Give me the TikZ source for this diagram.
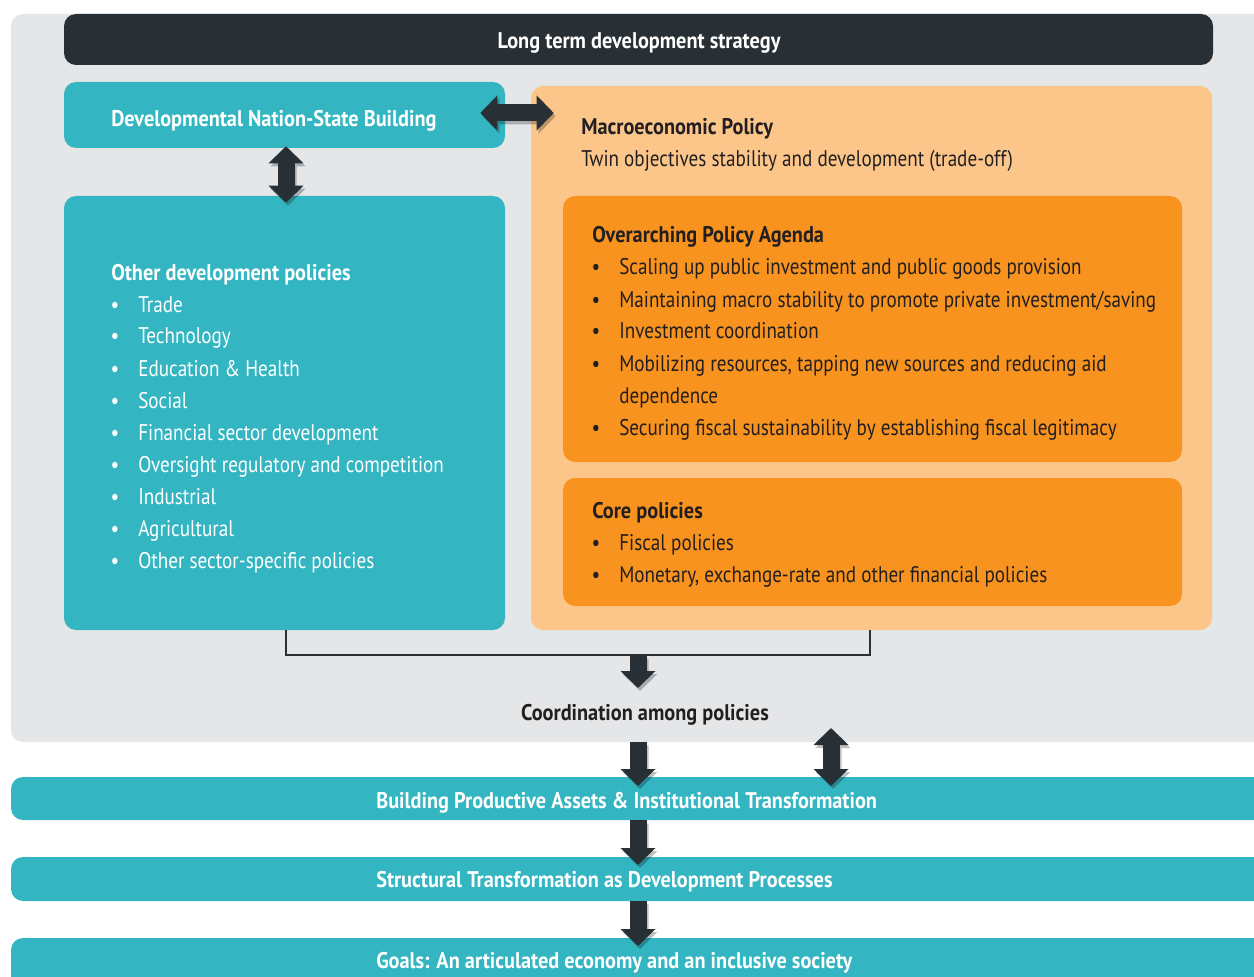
\documentclass[tikz,border=0pt]{standalone}
\usepackage{fontspec}
\setmainfont[FakeStretch=0.844, BoldFeatures={FakeStretch=0.896}]{PT Sans}
\usetikzlibrary{arrows.meta,fit}
\definecolor{bggrey}{HTML}{E5E6E8}
\definecolor{darkc}{HTML}{283035}
\definecolor{tealc}{HTML}{34B5C2}
\definecolor{lorange}{HTML}{FCC68A}
\definecolor{dorange}{HTML}{F7931E}
\definecolor{inkc}{HTML}{231F20}
\tikzset{
 panel/.style={inner sep=0pt, rounded corners=9pt, draw=none},
 wtxt/.style={text=white, inner sep=0pt},
 ktxt/.style={text=inkc, inner sep=0pt},
 bftxt/.style={font=\fontsize{17}{24}\selectfont\bfseries},
 sarr/.style={line width=12.75pt, draw=darkc, -{Triangle[length=12.75pt,width=25.5pt]}},
 darr/.style={line width=12.75pt, draw=darkc, {Triangle[length=12.75pt,width=25.5pt]}-{Triangle[length=12.75pt,width=25.5pt]}},
 bracket/.style={draw=darkc, line width=1.5pt},
}
\newcommand{\shadowed}[3]{%
 \begin{scope}[transform canvas={shift={(1.5pt,-2.25pt)}}]
 \begin{scope}[transparency group, opacity=0.25]
 \draw[#1, draw=black] #2 -- #3;
 \end{scope}
 \end{scope}
 \draw[#1] #2 -- #3;}
\begin{document}
\begin{tikzpicture}[x=0.75pt,y=-0.75pt,font=\fontsize{17}{24}\selectfont]
\useasboundingbox (0,0) rectangle (1254,977);
\clip (0,0) rectangle (1254,977);
% panels
\node[panel, fill=bggrey, fit={(11,14)(1290,742)}] (bg) {};
\node[panel, fill=darkc, fit={(64,14)(1213,65)}] (top) {};
\node[panel, fill=tealc, fit={(64,82)(505,148)}] (dnsb) {};
\node[panel, fill=tealc, fit={(64,196)(505,630)}] (odp) {};
\node[panel, fill=lorange, fit={(531,86)(1212,630)}] (macro) {};
\node[panel, fill=dorange, fit={(563,196)(1182,462)}] (over) {};
\node[panel, fill=dorange, fit={(563,478)(1182,606)}] (core) {};
\node[panel, fill=tealc, fit={(11,777)(1290,820)}] (bar1) {};
\node[panel, fill=tealc, fit={(11,857)(1290,901)}] (bar2) {};
\node[panel, fill=tealc, fit={(11,938)(1290,1010)}] (bar3) {};
% texts
\node[wtxt, bftxt, anchor=base] (toptxt) at (639,49) {Long term development strategy};
\node[wtxt, bftxt, anchor=base west] (dnsbtxt) at (111,127) {Developmental Nation-State Building};
\node[wtxt, bftxt, anchor=base west] (odptitle) at (111,281) {Other development policies};
\foreach \t [count=\i from 0] in {Trade,Technology,Education \& Health,Social,Financial sector development,Oversight regulatory and competition,Industrial,Agricultural,Other sector-specific policies}{
 \node[wtxt, anchor=base] (odpb\i) at (115,312+32*\i) {•};
 \node[wtxt, anchor=base west] (odpi\i) at (138,312+32*\i) {\t};
}
\node[ktxt, bftxt, anchor=base west] (macrotitle) at (581,135) {Macroeconomic Policy};
\node[ktxt, anchor=base west] (macrosub) at (581,167) {Twin objectives stability and development (trade-off)};
\node[ktxt, bftxt, anchor=base west] (overtitle) at (592,243) {Overarching Policy Agenda};
\foreach \yy/\t in {275/{Scaling up public investment and public goods provision},307/{Maintaining macro stability to promote private investment/saving},339/{Investment coordination},371/{Mobilizing resources, tapping new sources and reducing aid},435/{Securing fiscal sustainability by establishing fiscal legitimacy}}{
 \node[ktxt, anchor=base] (overb\yy) at (596,\yy) {•};
 \node[ktxt, anchor=base west] (overi\yy) at (619,\yy) {\t};
}
\node[ktxt, anchor=base west] (overi403) at (619,403) {dependence};
\node[ktxt, bftxt, anchor=base west] (coretitle) at (592,518) {Core policies};
\node[ktxt, anchor=base] (coreb1) at (596,550) {•};
\node[ktxt, anchor=base west] (corei1) at (619,550) {Fiscal policies};
\node[ktxt, anchor=base] (coreb2) at (596,582) {•};
\node[ktxt, anchor=base west] (corei2) at (619,582) {Monetary, exchange-rate and other financial policies};
\node[ktxt, bftxt, anchor=base] (coord) at (645,720) {Coordination among policies};
\node[wtxt, bftxt, anchor=base west] (bar1txt) at (376,808) {Building Productive Assets \& Institutional Transformation};
\node[wtxt, bftxt, anchor=base west] (bar2txt) at (376,887) {Structural Transformation as Development Processes};
\node[wtxt, bftxt, anchor=base west] (bar3txt) at (376,968) {Goals: An articulated economy and an inclusive society};
% bracket
\coordinate (bl) at ([shift={(1.5,0)}]odp.south);
\coordinate (brr) at ([shift={(-1.5,0)}]macro.south);
\coordinate (br) at (638,655);
\draw[bracket] (bl) -- ++(0,25) -| (brr);
% connectors
\coordinate (h2) at (dnsb.east -| macro.west);
\shadowed{darr}{([shift={(-25,-2)}]dnsb.east)}{([shift={(23,-2)}]h2)}
\shadowed{darr}{([shift={(1.5,-2)}]dnsb.south)}{([shift={(1.5,7)}]odp.north)}
\coordinate (ctip) at (638,688);
\shadowed{sarr}{([shift={(0,1)}]br)}{(ctip)}
\coordinate (a1s) at (bg.south -| br);
\coordinate (a1e) at (638,786);
\shadowed{sarr}{(a1s)}{(a1e)}
\coordinate (u1) at (831,728);
\coordinate (u2) at (831,786);
\shadowed{darr}{(u1)}{(u2)}
\coordinate (a2s) at (bar1.south -| br);
\coordinate (a2e) at (638,865);
\shadowed{sarr}{(a2s)}{(a2e)}
\coordinate (a3s) at (bar2.south -| br);
\coordinate (a3e) at (638,946);
\shadowed{sarr}{(a3s)}{(a3e)}
\end{tikzpicture}
\end{document}
